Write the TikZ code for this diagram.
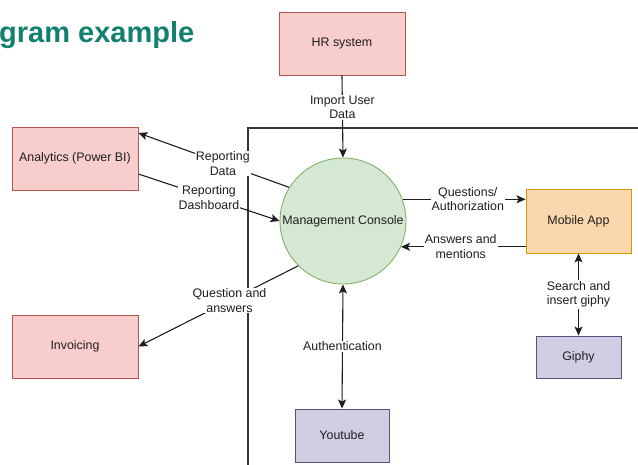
\documentclass[tikz,border=0pt]{standalone}
\usepackage{fontspec}
\setmainfont{Liberation Sans}
\usetikzlibrary{arrows.meta,calc}

\definecolor{titleteal}{RGB}{18,128,112}
\definecolor{inkgray}{RGB}{30,30,30}
\definecolor{redfill}{HTML}{F8CECC}
\definecolor{redline}{HTML}{B85450}
\definecolor{greenfill}{HTML}{D5E8D4}
\definecolor{greenline}{HTML}{82B366}
\definecolor{orangefill}{HTML}{FAD7AC}
\definecolor{orangeline}{HTML}{D79B00}
\definecolor{purplefill}{HTML}{D0CEE2}
\definecolor{purpleline}{HTML}{56517E}

\tikzset{
  txt/.style={font=\fontsize{12.4}{14.5}\selectfont, text=inkgray, align=center},
  entity/.style={txt, rectangle, draw=redline, fill=redfill, line width=0.9pt,
                 inner sep=0pt, minimum width=126pt, minimum height=63pt},
  service/.style={txt, rectangle, draw=purpleline, fill=purplefill, line width=0.9pt,
                  inner sep=0pt},
  process/.style={txt, circle, draw=greenline, fill=greenfill, line width=0.9pt,
                  inner sep=0pt, minimum size=126pt},
  appbox/.style={txt, rectangle, draw=orangeline, fill=orangefill, line width=0.9pt,
                 inner sep=0pt, minimum width=105pt, minimum height=64pt},
  flow/.style={draw=inkgray, line width=1.1pt,
               -{Stealth[length=9pt,width=8pt,inset=2pt]}},
  biflow/.style={draw=inkgray, line width=1.1pt,
               {Stealth[length=9pt,width=8pt,inset=2pt]}-{Stealth[length=9pt,width=8pt,inset=2pt]}},
  lbl/.style={txt, fill=white, inner sep=1pt},
  border/.style={draw=inkgray!90, line width=1.2pt}
}

\begin{document}
\begin{tikzpicture}[x=1pt, y=-1pt]
\useasboundingbox (0,0) rectangle (638,465);

% heading
\node[anchor=base west, inner sep=0pt, text=titleteal,
      font=\fontsize{29}{31}\selectfont\bfseries] (title) at (-1,43) {gram example};

% system boundary
\coordinate (bndA) at (248,465);
\coordinate (bndB) at (248,128);
\coordinate (bndC) at (638,128);
\draw[border] (bndA) -- (bndB) -- (bndC);

% external entities and the central process
\node[entity] (hr) at (342,43.5) {HR system};
\node[entity] (analytics) at (75,158.5) {Analytics (Power BI)};
\node[entity] (invoicing) at (75,346.5) {Invoicing};
\node[process] (console) at (343,221) {Management Console};
\node[appbox] (mobile) at (578.5,221) {Mobile App};
\node[service, minimum width=85pt, minimum height=42pt] (giphy) at (578.5,357) {Giphy};
\node[service, minimum width=94pt, minimum height=53pt] (youtube) at (342,435.5) {Youtube};

% attachment points on box sides
\coordinate (anaIn) at ($(analytics.east)+(0,-25.5)$);
\coordinate (anaOut) at ($(analytics.east)+(0,15.5)$);
\coordinate (mobIn) at (console.20.4 -| mobile.west);
\coordinate (mobOut) at (console.-24.4 -| mobile.west);

% data flows
\draw[flow] (hr.south) -- node[lbl, pos=0.39] {Import User\\Data} (console.north);
\draw[flow] (console.148) -- node[lbl, pos=0.44] {Reporting\\Data} (anaIn);
\draw[flow] (anaOut) -- node[lbl, pos=0.5] {Reporting\\Dashboard} (console.west);
\draw[flow] (console.225) -- node[lbl, pos=0.43] {Question and\\answers} (invoicing.east);
\draw[flow] (console.20.4) -- node[lbl, pos=0.53] {Questions/\\Authorization} (mobIn);
\draw[flow] (mobOut) -- node[lbl, pos=0.52] {Answers and\\mentions} (console.-24.4);
\draw[biflow] (mobile.south) -- node[lbl, pos=0.5] {Search and\\insert giphy} (giphy.north);
\draw[biflow] (console.south) -- node[lbl, pos=0.5] {Authentication} (youtube.north);
\end{tikzpicture}
\end{document}
